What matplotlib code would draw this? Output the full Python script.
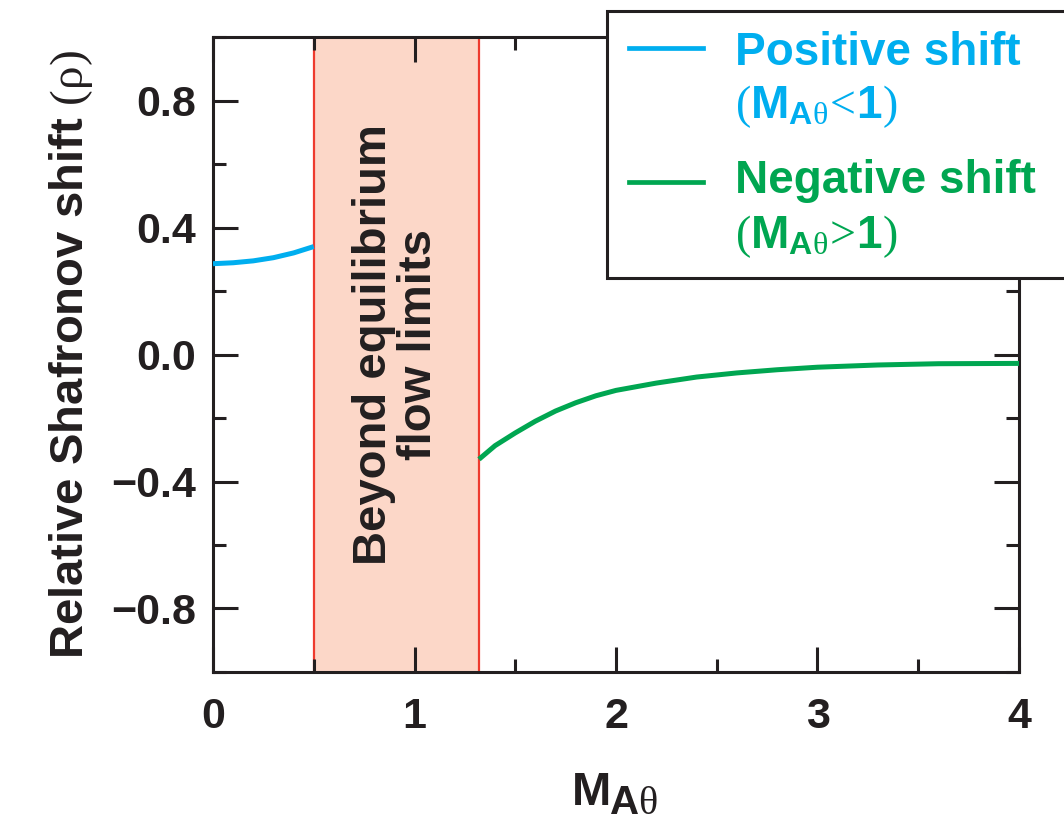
import numpy as np
import matplotlib
matplotlib.use('Agg')
import matplotlib.pyplot as plt
from matplotlib.patches import Rectangle
from matplotlib.ticker import MultipleLocator

plt.rcParams['font.family'] = ['Liberation Sans', 'DejaVu Sans']
plt.rcParams['mathtext.fontset'] = 'custom'
plt.rcParams['mathtext.rm'] = 'Liberation Serif:weight=normal'
plt.rcParams['mathtext.bf'] = 'Liberation Sans:bold'
plt.rcParams['mathtext.it'] = 'Liberation Serif:italic'

# shift vs poloidal Alfven Mach number
m_pos = [0.0, 0.1, 0.2, 0.3, 0.4, 0.5]
shift_pos = [0.286, 0.289, 0.295, 0.305, 0.320, 0.340]

m_neg = [1.32, 1.40, 1.50, 1.60, 1.70, 1.80, 1.90, 2.00, 2.20, 2.40,
         2.60, 2.80, 3.00, 3.30, 3.60, 4.00]
shift_neg = [-0.330, -0.287, -0.247, -0.210, -0.178, -0.152, -0.130, -0.113,
             -0.090, -0.071, -0.058, -0.048, -0.040, -0.033, -0.029, -0.028]

xticks = [0, 1, 2, 3, 4]
yticks = [-0.8, -0.4, 0.0, 0.4, 0.8]
ytick_labels = ['\u22120.8', '\u22120.4', '0.0', '0.4', '0.8']

# no equilibrium between these Mach numbers
gap_lo, gap_hi = 0.5, 1.32

c_pos = '#00aeef'
c_neg = '#00a651'
c_edge = '#ee3b2f'
c_fill = '#fcd7c8'
c_ax = '#231f20'

fig = plt.figure(figsize=(10.64, 8.21), dpi=100)
ax = fig.add_axes([0.2002, 0.1815, 0.7575, 0.7734])

ax.axvspan(gap_lo, gap_hi, facecolor=c_fill, edgecolor='none', zorder=0)
ax.axvline(gap_lo, color=c_edge, lw=1.6, zorder=1)
ax.axvline(gap_hi, color=c_edge, lw=1.6, zorder=1)
ax.text((gap_lo + gap_hi) / 2, 0.03, 'Beyond equilibrium\nflow limits',
        rotation=90, ha='center', va='center', fontsize=34, fontweight='bold',
        color=c_ax, linespacing=1.05, zorder=2)

ax.plot(m_pos, shift_pos, color=c_pos, lw=3.6, solid_capstyle='butt', zorder=3)
ax.plot(m_neg, shift_neg, color=c_neg, lw=3.6, solid_capstyle='butt', zorder=3)

ax.set_xlim(0, 4)
ax.set_ylim(-1, 1)
ax.set_xticks(xticks)
ax.set_xticklabels([str(v) for v in xticks], fontweight='bold')
ax.xaxis.set_minor_locator(MultipleLocator(0.5))
ax.set_yticks(yticks)
ax.set_yticklabels(ytick_labels, fontweight='bold')
ax.yaxis.set_minor_locator(MultipleLocator(0.2))

for s in ax.spines.values():
    s.set_linewidth(2.2)
    s.set_color(c_ax)
ax.tick_params(which='both', direction='in', top=True, right=True,
               width=2.2, color=c_ax, labelcolor=c_ax)
ax.tick_params(which='major', length=18)
ax.tick_params(which='minor', length=9.5)
ax.tick_params(axis='x', labelsize=31, pad=18)
ax.tick_params(axis='y', labelsize=31, pad=12)

ax.set_ylabel(r'Relative Shafronov shift $(\mathrm{\rho})$', fontsize=34,
              fontweight='bold', color=c_ax, labelpad=12)

# axis title M_Atheta, built from two pieces so the subscript stays large
fig.text(572 / 1064, 1 - 805 / 821, 'M', fontsize=34, fontweight='bold',
         color=c_ax, ha='left', va='baseline')
fig.text(609 / 1064, 1 - 814 / 821, r'$\mathbf{A}\mathrm{\theta}$',
         fontsize=29, color=c_ax, ha='left', va='baseline')

# legend box sitting over the upper right corner
box = Rectangle((607 / 1064, 1 - 278 / 821), 0.5, 267 / 821,
                transform=fig.transFigure, facecolor='white', edgecolor=c_ax,
                lw=2.2, zorder=10, clip_on=False)
fig.add_artist(box)
fig.add_artist(plt.Line2D([629 / 1064, 703 / 1064], [1 - 48 / 821] * 2,
                          transform=fig.transFigure, color=c_pos, lw=3.4,
                          zorder=11))
fig.add_artist(plt.Line2D([629 / 1064, 703 / 1064], [1 - 182 / 821] * 2,
                          transform=fig.transFigure, color=c_neg, lw=3.4,
                          zorder=11))
legend_rows = [
    ('Positive shift', 65, c_pos),
    (r'$(\mathbf{M}_{\mathbf{A}\mathrm{\theta}}\!<\!\mathbf{1})$', 118, c_pos),
    ('Negative shift', 193, c_neg),
    (r'$(\mathbf{M}_{\mathbf{A}\mathrm{\theta}}\!>\!\mathbf{1})$', 248, c_neg),
]
for label, base, col in legend_rows:
    fig.text(735 / 1064, 1 - base / 821, label, fontsize=33, fontweight='bold',
             color=col, ha='left', va='baseline', zorder=12)

fig.savefig('out.png', dpi=100)
